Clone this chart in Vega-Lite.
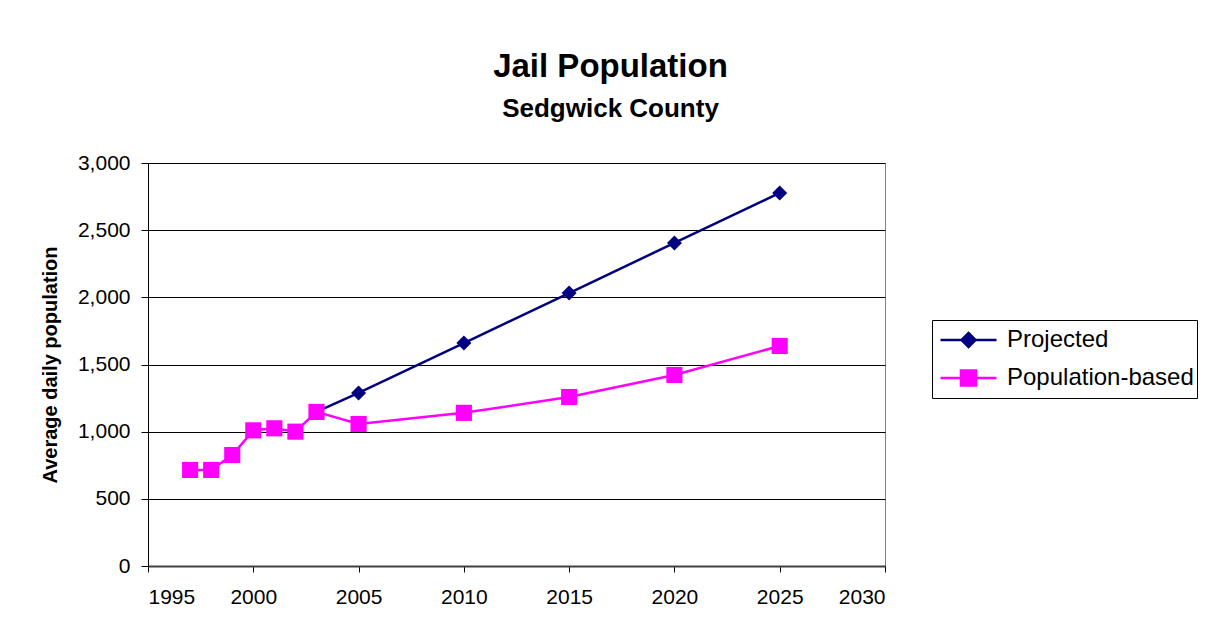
{
  "$schema": "https://vega.github.io/schema/vega-lite/v6.json",
  "width": 737,
  "height": 403,
  "autosize": {"type": "none"},
  "padding": {"left": 148, "top": 163, "right": 325, "bottom": 63},
  "background": "white",
  "config": {
    "font": "Liberation Sans",
    "view": {"stroke": "#808080", "strokeWidth": 1}
  },
  "title": {
    "text": "Jail Population",
    "subtitle": "Sedgwick County",
    "anchor": "middle",
    "dx": 94,
    "offset": 30,
    "font": "Liberation Sans",
    "fontSize": 33,
    "fontWeight": "bold",
    "color": "black",
    "subtitleFont": "Liberation Sans",
    "subtitleFontSize": 26,
    "subtitleFontWeight": "bold",
    "subtitleColor": "black",
    "subtitlePadding": 12
  },
  "data": {
    "values": [
      {"year": 2003, "series": "Projected", "value": 1147},
      {"year": 2005, "series": "Projected", "value": 1288},
      {"year": 2010, "series": "Projected", "value": 1660},
      {"year": 2015, "series": "Projected", "value": 2032},
      {"year": 2020, "series": "Projected", "value": 2405},
      {"year": 2025, "series": "Projected", "value": 2777},
      {"year": 1997, "series": "Population-based", "value": 715},
      {"year": 1998, "series": "Population-based", "value": 715},
      {"year": 1999, "series": "Population-based", "value": 826},
      {"year": 2000, "series": "Population-based", "value": 1010},
      {"year": 2001, "series": "Population-based", "value": 1025},
      {"year": 2002, "series": "Population-based", "value": 1000},
      {"year": 2003, "series": "Population-based", "value": 1147},
      {"year": 2005, "series": "Population-based", "value": 1057},
      {"year": 2010, "series": "Population-based", "value": 1140},
      {"year": 2015, "series": "Population-based", "value": 1258},
      {"year": 2020, "series": "Population-based", "value": 1422},
      {"year": 2025, "series": "Population-based", "value": 1638}
    ]
  },
  "encoding": {
    "x": {
      "field": "year",
      "type": "quantitative",
      "scale": {"domain": [1995, 2030], "nice": false, "zero": false},
      "axis": {
        "title": null,
        "values": [1995, 2000, 2005, 2010, 2015, 2020, 2025, 2030],
        "format": "d",
        "grid": false,
        "domainColor": "#404040",
        "domainWidth": 2,
        "tickColor": "black",
        "tickSize": 6,
        "labelFont": "Liberation Sans",
        "labelFontSize": 21,
        "labelColor": "black",
        "labelPadding": 14
      }
    },
    "y": {
      "field": "value",
      "type": "quantitative",
      "scale": {"domain": [0, 3000], "nice": false},
      "axis": {
        "title": "Average daily population",
        "titleFont": "Liberation Sans",
        "titleFontSize": 20,
        "titleFontWeight": "bold",
        "titleColor": "black",
        "titlePadding": 17,
        "values": [0, 500, 1000, 1500, 2000, 2500, 3000],
        "format": ",d",
        "grid": true,
        "gridColor": "black",
        "gridWidth": 1,
        "domainColor": "black",
        "tickColor": "black",
        "tickSize": 7,
        "labelFont": "Liberation Sans",
        "labelFontSize": 21,
        "labelColor": "black",
        "labelPadding": 11
      }
    }
  },
  "layer": [
    {
      "mark": {"type": "line", "strokeWidth": 2.5},
      "encoding": {
        "color": {
          "field": "series",
          "type": "nominal",
          "sort": ["Projected", "Population-based"],
          "scale": {"domain": ["Projected", "Population-based"], "range": ["#000080", "#FF00FF"]},
          "legend": {
            "orient": "none",
            "legendX": 784,
            "legendY": 157,
            "title": null,
            "strokeColor": "black",
            "padding": 3,
            "labelFont": "Liberation Sans",
            "labelFontSize": 24,
            "labelColor": "black",
            "labelOffset": 9,
            "labelLimit": 400,
            "symbolSize": 3136,
            "symbolOffset": 4,
            "symbolStrokeWidth": 2.5,
            "clipHeight": 34,
            "rowPadding": 4,
            "encode": {
              "symbols": {
                "update": {
                  "shape": {"signal": "datum.value === 'Projected' ? 'M-1,0H1M0,-0.25L0.25,0L0,0.25L-0.25,0Z' : 'M-1,0H1M-0.27,-0.27H0.27V0.27H-0.27Z'"},
                  "fill": {"signal": "datum.value === 'Projected' ? '#000080' : '#FF00FF'"},
                  "stroke": {"signal": "datum.value === 'Projected' ? '#000080' : '#FF00FF'"},
                  "fillOpacity": {"value": 1},
                  "strokeWidth": {"value": 2.5},
                  "size": {"value": 3136}
                }
              }
            }
          }
        }
      }
    },
    {
      "transform": [{"filter": "datum.series === 'Projected'"}],
      "mark": {"type": "point", "shape": "diamond", "filled": true, "opacity": 1, "strokeWidth": 0, "size": 225, "fill": "#000080"},
      "encoding": {}
    },
    {
      "transform": [{"filter": "datum.series === 'Population-based'"}],
      "mark": {"type": "point", "shape": "square", "filled": true, "opacity": 1, "strokeWidth": 0, "size": 260, "fill": "#FF00FF"},
      "encoding": {}
    }
  ]
}
